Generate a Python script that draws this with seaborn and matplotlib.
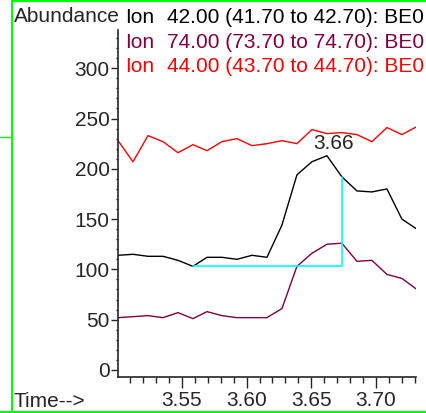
import matplotlib
matplotlib.use('Agg')
import numpy as np
import pandas as pd
import matplotlib.pyplot as plt
import seaborn as sns
from matplotlib.ticker import MultipleLocator
from matplotlib.lines import Line2D

# Data
times = [3.5005, 3.5121, 3.5237, 3.5353, 3.5469, 3.5585, 3.5693, 3.5809, 3.5925,
         3.6041, 3.6157, 3.6273, 3.6389, 3.6505, 3.6621, 3.6737, 3.6853, 3.6969,
         3.7085, 3.7201, 3.7317]
ion42 = [114, 115, 113, 113, 109, 103, 112, 112, 110, 114, 112, 144, 194, 207,
         213, 192, 178, 177, 180, 150, 140]
ion74 = [52, 53, 54, 52, 57, 51, 58, 54, 52, 52, 52, 61, 103, 116, 125, 126,
         108, 109, 95, 91, 80]
ion44 = [228, 207, 233, 227, 216, 224, 218, 227, 230, 223, 225, 228, 225, 239,
         235, 236, 234, 227, 241, 234, 242]

ion_labels = ['42.00 (41.70 to 42.70): BE0',
              '74.00 (73.70 to 74.70): BE0',
              '44.00 (43.70 to 44.70): BE0']
colors = ['#000000', '#800040', '#ff0000']

# integration baseline from scan 5 to scan 15 of ion 42
start_i, end_i = 5, 15

df = pd.concat([
    pd.DataFrame({'time': times, 'abundance': ion42, 'ion': ion_labels[0]}),
    pd.DataFrame({'time': times, 'abundance': ion74, 'ion': ion_labels[1]}),
    pd.DataFrame({'time': times, 'abundance': ion44, 'ion': ion_labels[2]}),
])

sns.set_style('ticks')
plt.rcParams['font.family'] = ['Liberation Sans', 'DejaVu Sans']

W, H = 426, 413
fig = plt.figure(figsize=(W / 100, H / 100), dpi=100)
ax = fig.add_axes([118 / W, 1 - 377 / H, (416 - 118) / W, (377 - 30) / H])

sns.lineplot(data=df, x='time', y='abundance', hue='ion', palette=colors,
             legend=False, linewidth=1.0, ax=ax)

# baseline drawn between the two chosen scans
bt = [times[start_i], times[end_i], times[end_i]]
by = [ion42[start_i], ion42[start_i], ion42[end_i]]
ax.plot(bt, by, color='#00ffff', linewidth=1.2)

fs = 15
peak = int(np.argmax(ion42))
ax.annotate('%.2f' % times[peak], (times[peak], ion42[peak]),
            xytext=(4.5, 4.5), textcoords='offset points',
            ha='center', va='baseline', fontsize=fs)

ax.set_xlim(3.5005, 3.731)
ax.set_ylim(-7, 338)
ax.xaxis.set_major_locator(MultipleLocator(0.05))
ax.xaxis.set_minor_locator(MultipleLocator(0.01))
ax.yaxis.set_major_locator(MultipleLocator(50))
ax.yaxis.set_minor_locator(MultipleLocator(10))
ax.xaxis.set_major_formatter(matplotlib.ticker.FormatStrFormatter('%.2f'))
ax.tick_params(axis='x', which='major', length=8, width=1, pad=2, labelsize=fs)
ax.tick_params(axis='x', which='minor', length=4, width=1)
ax.tick_params(axis='y', which='major', length=5, width=1, pad=1, labelsize=fs)
ax.tick_params(axis='y', which='minor', length=1.5, width=1)
ax.set_xlabel('')
ax.set_ylabel('')
sns.despine(ax=ax)
for s in ['left', 'bottom']:
    ax.spines[s].set_linewidth(1.2)

# header / labels
fig.text(13.5 / W, 1 - 22 / H, 'Abundance', fontsize=fs, va='baseline')
fig.text(13.5 / W, 1 - 407 / H, 'Time-->', fontsize=fs, va='baseline')
for k, (lab, c) in enumerate(zip(ion_labels, colors)):
    yb = 1 - (23 + 24.5 * k) / H
    fig.text(125 / W, yb, 'Ion', fontsize=fs, color=c, va='baseline')
    fig.text(167 / W, yb, lab, fontsize=fs, color=c, va='baseline')

# green window frame
green = '#00ff00'
fig.add_artist(Line2D([12 / W, 12 / W], [0, 1], color=green, lw=1.5))
fig.add_artist(Line2D([12 / W, 1], [1 - 1 / H, 1 - 1 / H], color=green, lw=1.5))
fig.add_artist(Line2D([0, 1], [1 - 412 / H, 1 - 412 / H], color=green, lw=1.5))
fig.add_artist(Line2D([0, 12 / W], [1 - 137 / H, 1 - 137 / H], color=green, lw=1.0))

fig.savefig('out.png', dpi=100)
